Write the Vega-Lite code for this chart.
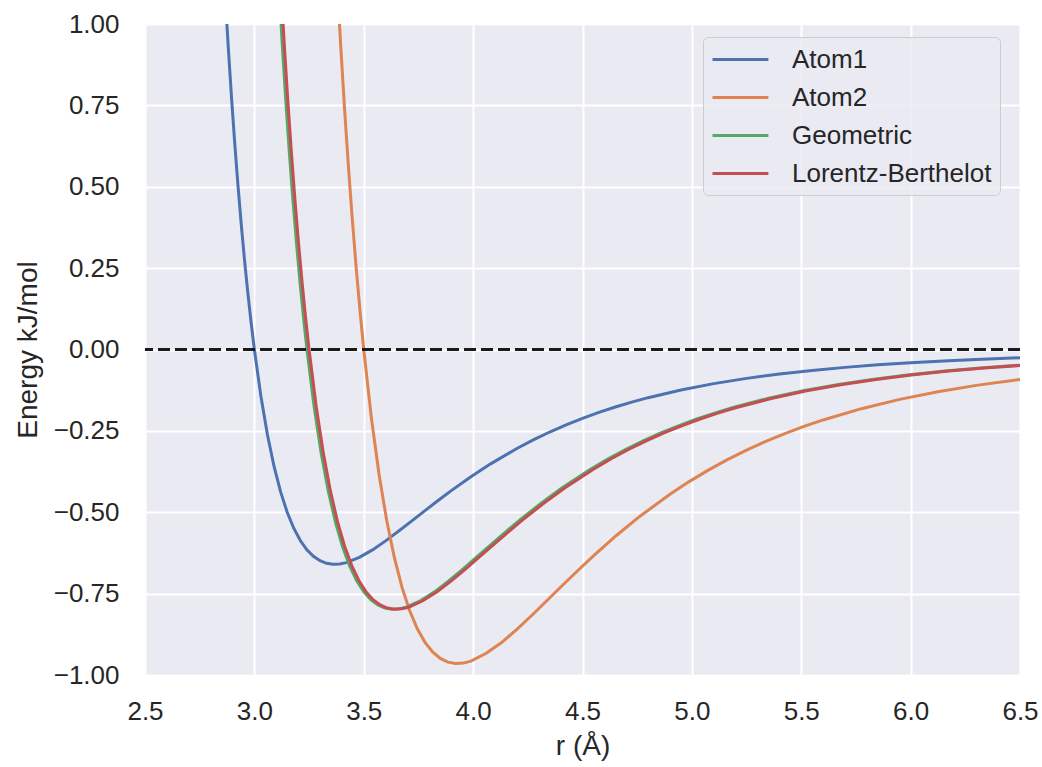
{
  "$schema": "https://vega.github.io/schema/vega-lite/v6.json",
  "width": 875,
  "height": 651,
  "autosize": "none",
  "padding": {"left": 145, "top": 24, "right": 22, "bottom": 92},
  "background": "white",
  "config": {
    "view": {"fill": "#EAEAF2", "stroke": null},
    "font": "Liberation Sans",
    "axis": {
      "grid": true, "gridColor": "white", "gridWidth": 2, "gridOpacity": 1,
      "domain": false, "ticks": false,
      "labelFont": "Liberation Sans", "labelFontSize": 26, "labelColor": "#262626",
      "titleFont": "Liberation Sans", "titleFontSize": 28, "titleColor": "#262626", "titleFontWeight": "normal",
      "labelOverlap": false, "labelBound": false, "labelFlush": false
    },
    "legend": {
      "fillColor": "rgba(234,234,242,0.8)", "strokeColor": "#CCCCCC", "cornerRadius": 5,
      "padding": 8, "labelFont": "Liberation Sans", "labelFontSize": 26, "labelColor": "#262626", "labelLimit": 400,
      "symbolStrokeWidth": 3, "labelOffset": 52, "rowPadding": 10
    }
  },
  "layer": [
    {
      "data": {"values": [
        {"series": "Atom1", "r": 2.85, "E": 1.2942},
        {"series": "Atom1", "r": 2.865, "E": 1.1073},
        {"series": "Atom1", "r": 2.88, "E": 0.9360},
        {"series": "Atom1", "r": 2.895, "E": 0.7791},
        {"series": "Atom1", "r": 2.91, "E": 0.6355},
        {"series": "Atom1", "r": 2.925, "E": 0.5042},
        {"series": "Atom1", "r": 2.94, "E": 0.3841},
        {"series": "Atom1", "r": 2.955, "E": 0.2744},
        {"series": "Atom1", "r": 2.97, "E": 0.1743},
        {"series": "Atom1", "r": 2.985, "E": 0.0831},
        {"series": "Atom1", "r": 3.0, "E": 0},
        {"series": "Atom1", "r": 3.03, "E": -0.1441},
        {"series": "Atom1", "r": 3.06, "E": -0.2626},
        {"series": "Atom1", "r": 3.09, "E": -0.3593},
        {"series": "Atom1", "r": 3.12, "E": -0.4375},
        {"series": "Atom1", "r": 3.15, "E": -0.5000},
        {"series": "Atom1", "r": 3.18, "E": -0.5491},
        {"series": "Atom1", "r": 3.21, "E": -0.5870},
        {"series": "Atom1", "r": 3.24, "E": -0.6153},
        {"series": "Atom1", "r": 3.27, "E": -0.6355},
        {"series": "Atom1", "r": 3.30, "E": -0.6490},
        {"series": "Atom1", "r": 3.33, "E": -0.6568},
        {"series": "Atom1", "r": 3.36, "E": -0.6599},
        {"series": "Atom1", "r": 3.39, "E": -0.6590},
        {"series": "Atom1", "r": 3.42, "E": -0.6548},
        {"series": "Atom1", "r": 3.48, "E": -0.6384},
        {"series": "Atom1", "r": 3.54, "E": -0.6157},
        {"series": "Atom1", "r": 3.60, "E": -0.5880},
        {"series": "Atom1", "r": 3.66, "E": -0.5578},
        {"series": "Atom1", "r": 3.72, "E": -0.5265},
        {"series": "Atom1", "r": 3.78, "E": -0.4949},
        {"series": "Atom1", "r": 3.84, "E": -0.4638},
        {"series": "Atom1", "r": 3.90, "E": -0.4336},
        {"series": "Atom1", "r": 3.99, "E": -0.3908},
        {"series": "Atom1", "r": 4.08, "E": -0.3513},
        {"series": "Atom1", "r": 4.20, "E": -0.3041},
        {"series": "Atom1", "r": 4.275, "E": -0.2776},
        {"series": "Atom1", "r": 4.35, "E": -0.2535},
        {"series": "Atom1", "r": 4.425, "E": -0.2315},
        {"series": "Atom1", "r": 4.50, "E": -0.2114},
        {"series": "Atom1", "r": 4.575, "E": -0.1932},
        {"series": "Atom1", "r": 4.65, "E": -0.1767},
        {"series": "Atom1", "r": 4.725, "E": -0.1616},
        {"series": "Atom1", "r": 4.80, "E": -0.1480},
        {"series": "Atom1", "r": 4.95, "E": -0.1243},
        {"series": "Atom1", "r": 5.10, "E": -0.1048},
        {"series": "Atom1", "r": 5.25, "E": -0.0887},
        {"series": "Atom1", "r": 5.40, "E": -0.0753},
        {"series": "Atom1", "r": 5.55, "E": -0.0642},
        {"series": "Atom1", "r": 5.70, "E": -0.0549},
        {"series": "Atom1", "r": 5.85, "E": -0.0471},
        {"series": "Atom1", "r": 6.00, "E": -0.0406},
        {"series": "Atom1", "r": 6.15, "E": -0.0351},
        {"series": "Atom1", "r": 6.30, "E": -0.0304},
        {"series": "Atom1", "r": 6.5, "E": -0.0253},

        {"series": "Atom2", "r": 3.325, "E": 1.8923},
        {"series": "Atom2", "r": 3.3425, "E": 1.6191},
        {"series": "Atom2", "r": 3.36, "E": 1.3686},
        {"series": "Atom2", "r": 3.3775, "E": 1.1392},
        {"series": "Atom2", "r": 3.395, "E": 0.9292},
        {"series": "Atom2", "r": 3.4125, "E": 0.7371},
        {"series": "Atom2", "r": 3.43, "E": 0.5615},
        {"series": "Atom2", "r": 3.4475, "E": 0.4012},
        {"series": "Atom2", "r": 3.465, "E": 0.2548},
        {"series": "Atom2", "r": 3.4825, "E": 0.1215},
        {"series": "Atom2", "r": 3.5, "E": 0},
        {"series": "Atom2", "r": 3.535, "E": -0.2107},
        {"series": "Atom2", "r": 3.57, "E": -0.3840},
        {"series": "Atom2", "r": 3.605, "E": -0.5254},
        {"series": "Atom2", "r": 3.64, "E": -0.6397},
        {"series": "Atom2", "r": 3.675, "E": -0.7310},
        {"series": "Atom2", "r": 3.71, "E": -0.8029},
        {"series": "Atom2", "r": 3.745, "E": -0.8582},
        {"series": "Atom2", "r": 3.78, "E": -0.8996},
        {"series": "Atom2", "r": 3.815, "E": -0.9292},
        {"series": "Atom2", "r": 3.85, "E": -0.9490},
        {"series": "Atom2", "r": 3.885, "E": -0.9604},
        {"series": "Atom2", "r": 3.92, "E": -0.9648},
        {"series": "Atom2", "r": 3.955, "E": -0.9635},
        {"series": "Atom2", "r": 3.99, "E": -0.9574},
        {"series": "Atom2", "r": 4.06, "E": -0.9334},
        {"series": "Atom2", "r": 4.13, "E": -0.9002},
        {"series": "Atom2", "r": 4.20, "E": -0.8598},
        {"series": "Atom2", "r": 4.27, "E": -0.8156},
        {"series": "Atom2", "r": 4.34, "E": -0.7697},
        {"series": "Atom2", "r": 4.41, "E": -0.7236},
        {"series": "Atom2", "r": 4.48, "E": -0.6781},
        {"series": "Atom2", "r": 4.55, "E": -0.6340},
        {"series": "Atom2", "r": 4.655, "E": -0.5714},
        {"series": "Atom2", "r": 4.76, "E": -0.5136},
        {"series": "Atom2", "r": 4.90, "E": -0.4446},
        {"series": "Atom2", "r": 4.9875, "E": -0.4059},
        {"series": "Atom2", "r": 5.075, "E": -0.3706},
        {"series": "Atom2", "r": 5.1625, "E": -0.3384},
        {"series": "Atom2", "r": 5.25, "E": -0.3091},
        {"series": "Atom2", "r": 5.3375, "E": -0.2825},
        {"series": "Atom2", "r": 5.425, "E": -0.2583},
        {"series": "Atom2", "r": 5.5125, "E": -0.2363},
        {"series": "Atom2", "r": 5.60, "E": -0.2164},
        {"series": "Atom2", "r": 5.775, "E": -0.1818},
        {"series": "Atom2", "r": 5.95, "E": -0.1533},
        {"series": "Atom2", "r": 6.125, "E": -0.1297},
        {"series": "Atom2", "r": 6.30, "E": -0.1102},
        {"series": "Atom2", "r": 6.5, "E": -0.0918},

        {"series": "Geometric", "r": 3.0784, "E": 1.5650},
        {"series": "Geometric", "r": 3.0946, "E": 1.3390},
        {"series": "Geometric", "r": 3.1108, "E": 1.1318},
        {"series": "Geometric", "r": 3.1270, "E": 0.9421},
        {"series": "Geometric", "r": 3.1432, "E": 0.7685},
        {"series": "Geometric", "r": 3.1594, "E": 0.6096},
        {"series": "Geometric", "r": 3.1756, "E": 0.4644},
        {"series": "Geometric", "r": 3.1918, "E": 0.3318},
        {"series": "Geometric", "r": 3.2080, "E": 0.2108},
        {"series": "Geometric", "r": 3.2242, "E": 0.1005},
        {"series": "Geometric", "r": 3.2404, "E": 0},
        {"series": "Geometric", "r": 3.2728, "E": -0.1743},
        {"series": "Geometric", "r": 3.3052, "E": -0.3176},
        {"series": "Geometric", "r": 3.3376, "E": -0.4345},
        {"series": "Geometric", "r": 3.3700, "E": -0.5290},
        {"series": "Geometric", "r": 3.4024, "E": -0.6045},
        {"series": "Geometric", "r": 3.4348, "E": -0.6640},
        {"series": "Geometric", "r": 3.4672, "E": -0.7097},
        {"series": "Geometric", "r": 3.4996, "E": -0.7440},
        {"series": "Geometric", "r": 3.5320, "E": -0.7685},
        {"series": "Geometric", "r": 3.5644, "E": -0.7848},
        {"series": "Geometric", "r": 3.5968, "E": -0.7942},
        {"series": "Geometric", "r": 3.6292, "E": -0.7979},
        {"series": "Geometric", "r": 3.6616, "E": -0.7968},
        {"series": "Geometric", "r": 3.6940, "E": -0.7918},
        {"series": "Geometric", "r": 3.7588, "E": -0.7719},
        {"series": "Geometric", "r": 3.8236, "E": -0.7445},
        {"series": "Geometric", "r": 3.8884, "E": -0.7110},
        {"series": "Geometric", "r": 3.9533, "E": -0.6745},
        {"series": "Geometric", "r": 4.0181, "E": -0.6366},
        {"series": "Geometric", "r": 4.0829, "E": -0.5984},
        {"series": "Geometric", "r": 4.1477, "E": -0.5608},
        {"series": "Geometric", "r": 4.2125, "E": -0.5243},
        {"series": "Geometric", "r": 4.3097, "E": -0.4726},
        {"series": "Geometric", "r": 4.4069, "E": -0.4248},
        {"series": "Geometric", "r": 4.5365, "E": -0.3677},
        {"series": "Geometric", "r": 4.6175, "E": -0.3357},
        {"series": "Geometric", "r": 4.6985, "E": -0.3065},
        {"series": "Geometric", "r": 4.7795, "E": -0.2799},
        {"series": "Geometric", "r": 4.8606, "E": -0.2557},
        {"series": "Geometric", "r": 4.9416, "E": -0.2336},
        {"series": "Geometric", "r": 5.0226, "E": -0.2136},
        {"series": "Geometric", "r": 5.1036, "E": -0.1954},
        {"series": "Geometric", "r": 5.1846, "E": -0.1789},
        {"series": "Geometric", "r": 5.3466, "E": -0.1504},
        {"series": "Geometric", "r": 5.5086, "E": -0.1268},
        {"series": "Geometric", "r": 5.6706, "E": -0.1073},
        {"series": "Geometric", "r": 5.8327, "E": -0.0911},
        {"series": "Geometric", "r": 5.9947, "E": -0.0776},
        {"series": "Geometric", "r": 6.1567, "E": -0.0664},
        {"series": "Geometric", "r": 6.3187, "E": -0.0570},
        {"series": "Geometric", "r": 6.5, "E": -0.0483},

        {"series": "Lorentz-Berthelot", "r": 3.0875, "E": 1.5650},
        {"series": "Lorentz-Berthelot", "r": 3.10375, "E": 1.3390},
        {"series": "Lorentz-Berthelot", "r": 3.12, "E": 1.1318},
        {"series": "Lorentz-Berthelot", "r": 3.13625, "E": 0.9421},
        {"series": "Lorentz-Berthelot", "r": 3.1525, "E": 0.7685},
        {"series": "Lorentz-Berthelot", "r": 3.16875, "E": 0.6096},
        {"series": "Lorentz-Berthelot", "r": 3.185, "E": 0.4644},
        {"series": "Lorentz-Berthelot", "r": 3.20125, "E": 0.3318},
        {"series": "Lorentz-Berthelot", "r": 3.2175, "E": 0.2108},
        {"series": "Lorentz-Berthelot", "r": 3.23375, "E": 0.1005},
        {"series": "Lorentz-Berthelot", "r": 3.25, "E": 0},
        {"series": "Lorentz-Berthelot", "r": 3.2825, "E": -0.1743},
        {"series": "Lorentz-Berthelot", "r": 3.315, "E": -0.3176},
        {"series": "Lorentz-Berthelot", "r": 3.3475, "E": -0.4345},
        {"series": "Lorentz-Berthelot", "r": 3.38, "E": -0.5290},
        {"series": "Lorentz-Berthelot", "r": 3.4125, "E": -0.6045},
        {"series": "Lorentz-Berthelot", "r": 3.445, "E": -0.6640},
        {"series": "Lorentz-Berthelot", "r": 3.4775, "E": -0.7097},
        {"series": "Lorentz-Berthelot", "r": 3.51, "E": -0.7440},
        {"series": "Lorentz-Berthelot", "r": 3.5425, "E": -0.7685},
        {"series": "Lorentz-Berthelot", "r": 3.575, "E": -0.7848},
        {"series": "Lorentz-Berthelot", "r": 3.6075, "E": -0.7942},
        {"series": "Lorentz-Berthelot", "r": 3.64, "E": -0.7979},
        {"series": "Lorentz-Berthelot", "r": 3.6725, "E": -0.7968},
        {"series": "Lorentz-Berthelot", "r": 3.705, "E": -0.7918},
        {"series": "Lorentz-Berthelot", "r": 3.77, "E": -0.7719},
        {"series": "Lorentz-Berthelot", "r": 3.835, "E": -0.7445},
        {"series": "Lorentz-Berthelot", "r": 3.90, "E": -0.7110},
        {"series": "Lorentz-Berthelot", "r": 3.965, "E": -0.6745},
        {"series": "Lorentz-Berthelot", "r": 4.03, "E": -0.6366},
        {"series": "Lorentz-Berthelot", "r": 4.095, "E": -0.5984},
        {"series": "Lorentz-Berthelot", "r": 4.16, "E": -0.5608},
        {"series": "Lorentz-Berthelot", "r": 4.225, "E": -0.5243},
        {"series": "Lorentz-Berthelot", "r": 4.3225, "E": -0.4726},
        {"series": "Lorentz-Berthelot", "r": 4.42, "E": -0.4248},
        {"series": "Lorentz-Berthelot", "r": 4.55, "E": -0.3677},
        {"series": "Lorentz-Berthelot", "r": 4.63125, "E": -0.3357},
        {"series": "Lorentz-Berthelot", "r": 4.7125, "E": -0.3065},
        {"series": "Lorentz-Berthelot", "r": 4.79375, "E": -0.2799},
        {"series": "Lorentz-Berthelot", "r": 4.875, "E": -0.2557},
        {"series": "Lorentz-Berthelot", "r": 4.95625, "E": -0.2336},
        {"series": "Lorentz-Berthelot", "r": 5.0375, "E": -0.2136},
        {"series": "Lorentz-Berthelot", "r": 5.11875, "E": -0.1954},
        {"series": "Lorentz-Berthelot", "r": 5.20, "E": -0.1789},
        {"series": "Lorentz-Berthelot", "r": 5.3625, "E": -0.1504},
        {"series": "Lorentz-Berthelot", "r": 5.525, "E": -0.1268},
        {"series": "Lorentz-Berthelot", "r": 5.6875, "E": -0.1073},
        {"series": "Lorentz-Berthelot", "r": 5.85, "E": -0.0911},
        {"series": "Lorentz-Berthelot", "r": 6.0125, "E": -0.0776},
        {"series": "Lorentz-Berthelot", "r": 6.175, "E": -0.0664},
        {"series": "Lorentz-Berthelot", "r": 6.3375, "E": -0.0570},
        {"series": "Lorentz-Berthelot", "r": 6.5, "E": -0.0491}
      ]},
      "mark": {"type": "line", "clip": true, "strokeWidth": 3},
      "encoding": {
        "x": {
          "field": "r", "type": "quantitative",
          "scale": {"domain": [2.5, 6.5], "nice": false, "zero": false},
          "axis": {"values": [2.5, 3.0, 3.5, 4.0, 4.5, 5.0, 5.5, 6.0, 6.5], "format": ".1f", "title": "r (Å)", "labelPadding": 23, "titlePadding": 8}
        },
        "y": {
          "field": "E", "type": "quantitative",
          "scale": {"domain": [-1, 1], "nice": false, "zero": false},
          "axis": {"values": [-1, -0.75, -0.5, -0.25, 0, 0.25, 0.5, 0.75, 1], "format": ".2f", "title": "Energy kJ/mol", "labelPadding": 26, "titlePadding": 11}
        },
        "color": {
          "field": "series", "type": "nominal",
          "scale": {"domain": ["Atom1", "Atom2", "Geometric", "Lorentz-Berthelot"], "range": ["#4C72B0", "#DD8452", "#55A868", "#C44E52"]},
          "legend": {"title": null, "orient": "none", "legendX": 558, "legendY": 13, "symbolType": "M-1,0H3.3", "symbolSize": 676}
        }
      }
    },
    {
      "data": {"values": [{"level": 0}]},
      "mark": {"type": "rule", "strokeDash": [12, 5], "strokeWidth": 3, "color": "#1a1a1a"},
      "encoding": {"y": {"field": "level", "type": "quantitative"}}
    }
  ]
}
